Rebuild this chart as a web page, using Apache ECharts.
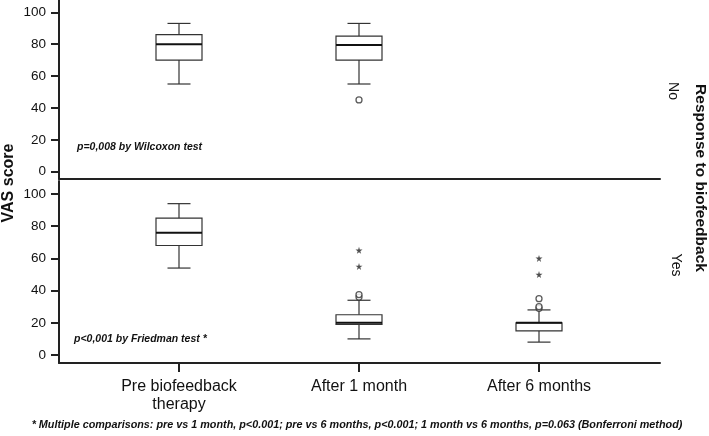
<!DOCTYPE html>
<html>
<head>
<meta charset="utf-8">
<script src="https://cdn.jsdelivr.net/npm/echarts@6/dist/echarts.min.js"></script>
<style>html,body{margin:0;padding:0;background:#fff}#c{width:709px;height:436px}</style>
</head>
<body>
<div id="c"></div>
<script>
// ---- data ----
const categories = ['Pre biofeedback\ntherapy', 'After 1 month', 'After 6 months'];
const categoryPos = [0, 1, 2];
const yTicks = [0, 20, 40, 60, 80, 100];
// [categoryIndex, lowWhisker, Q1, median, Q3, highWhisker]
const boxNo = [[0, 55, 70, 80, 86, 93], [1, 55, 70, 79.5, 85, 93]];
const boxYes = [[0, 54, 68, 76, 85, 94], [1, 10, 19, 20, 25, 34], [2, 8, 15, 20, 20, 28]];
const circlesNo = [[1, 45]];
const circlesYes = [[1, 36], [1, 37.5], [2, 29], [2, 30], [2, 35]];
const starsYes = [[1, 55], [1, 65], [2, 50], [2, 60]];

const FONT = '"Liberation Sans", Arial, Helvetica, sans-serif';
const LINE = '#333';
const BOX_HALF = 23, CAP_HALF = 11.5;

function renderBox(params, api) {
  const x = api.value(0);
  const c = v => api.coord([x, api.value(v)]);
  const lo = c(1), q1 = c(2), md = c(3), q3 = c(4), hi = c(5);
  const cx = lo[0];
  const st = { stroke: LINE, lineWidth: 1.2, fill: null };
  return {
    type: 'group',
    children: [
      { type: 'line', shape: { x1: cx, y1: lo[1], x2: cx, y2: q1[1] }, style: st },
      { type: 'line', shape: { x1: cx, y1: q3[1], x2: cx, y2: hi[1] }, style: st },
      { type: 'line', shape: { x1: cx - CAP_HALF, y1: lo[1], x2: cx + CAP_HALF, y2: lo[1] }, style: st },
      { type: 'line', shape: { x1: cx - CAP_HALF, y1: hi[1], x2: cx + CAP_HALF, y2: hi[1] }, style: st },
      { type: 'rect', shape: { x: cx - BOX_HALF, y: q3[1], width: BOX_HALF * 2, height: q1[1] - q3[1] }, style: { stroke: LINE, lineWidth: 1.2, fill: '#fff' } },
      { type: 'line', shape: { x1: cx - BOX_HALF, y1: md[1], x2: cx + BOX_HALF, y2: md[1] }, style: { stroke: '#111', lineWidth: 2 } }
    ]
  };
}

const STAR = 'path://M50,0 L61,35 L98,35 L68,57 L79,91 L50,70 L21,91 L32,57 L2,35 L39,35 Z';

function xAxis(gridIndex, showLabels) {
  return {
    type: 'value', gridIndex, min: -120 / 180, max: 481 / 180,
    splitLine: { show: false },
    axisLine: { show: true, onZero: false, lineStyle: { color: '#222', width: 2 } },
    axisTick: { show: showLabels, customValues: categoryPos, length: 9, lineStyle: { color: '#222', width: 2 } },
    axisLabel: {
      show: showLabels, customValues: categoryPos, margin: 15,
      fontSize: 16, lineHeight: 18, color: '#111', fontFamily: FONT,
      formatter: v => categories[Math.round(v)] || ''
    }
  };
}
function yAxis(gridIndex, min, max) {
  return {
    type: 'value', gridIndex, min, max,
    splitLine: { show: false },
    axisLine: { show: true, onZero: false, lineStyle: { color: '#222', width: 2 } },
    axisTick: { show: true, customValues: yTicks, length: 8, lineStyle: { color: '#222', width: 2 } },
    axisLabel: { customValues: yTicks, margin: 13, fontSize: 13.5, color: '#111', fontFamily: FONT }
  };
}

const chart = echarts.init(document.getElementById('c'), null, { renderer: 'canvas' });
chart.setOption({
  animation: false,
  backgroundColor: '#fff',
  textStyle: { fontFamily: FONT },
  grid: [
    { left: 59, right: 49, top: 0, height: 179 },
    { left: 59, right: 49, top: 181, height: 182 }
  ],
  xAxis: [xAxis(0, false), xAxis(1, true)],
  yAxis: [yAxis(0, -4.6, 107.7), yAxis(1, -4.97, 108.07)],
  series: [
    { type: 'custom', xAxisIndex: 0, yAxisIndex: 0, data: boxNo, renderItem: renderBox, encode: { x: 0, y: [1, 2, 3, 4, 5] }, silent: true },
    { type: 'custom', xAxisIndex: 1, yAxisIndex: 1, data: boxYes, renderItem: renderBox, encode: { x: 0, y: [1, 2, 3, 4, 5] }, silent: true },
    { type: 'scatter', xAxisIndex: 0, yAxisIndex: 0, data: circlesNo, symbol: 'circle', symbolSize: 6, itemStyle: { color: '#fff', borderColor: LINE, borderWidth: 1.3 }, silent: true },
    { type: 'scatter', xAxisIndex: 1, yAxisIndex: 1, data: circlesYes, symbol: 'circle', symbolSize: 6, itemStyle: { color: '#fff', borderColor: LINE, borderWidth: 1.3 }, silent: true },
    { type: 'scatter', xAxisIndex: 1, yAxisIndex: 1, data: starsYes, symbol: STAR, symbolSize: 7, itemStyle: { color: '#222' }, silent: true }
  ],
  graphic: [
    { type: 'text', x: 9, y: 183, rotation: Math.PI / 2, style: { text: 'VAS score', font: 'bold 16px ' + FONT, fill: '#111', align: 'center', verticalAlign: 'middle' } },
    { type: 'text', x: 700, y: 178, rotation: -Math.PI / 2, style: { text: 'Response to biofeedback', font: 'bold 15.5px ' + FONT, fill: '#111', align: 'center', verticalAlign: 'middle' } },
    { type: 'text', x: 673, y: 91, rotation: -Math.PI / 2, style: { text: 'No', font: '14px ' + FONT, fill: '#111', align: 'center', verticalAlign: 'middle' } },
    { type: 'text', x: 676, y: 265, rotation: -Math.PI / 2, style: { text: 'Yes', font: '14px ' + FONT, fill: '#111', align: 'center', verticalAlign: 'middle' } },
    { type: 'text', x: 77, y: 147, style: { text: 'p=0,008 by Wilcoxon test', font: 'italic bold 10.5px ' + FONT, fill: '#111', align: 'left', verticalAlign: 'middle' } },
    { type: 'text', x: 74, y: 339, style: { text: 'p<0,001 by Friedman test *', font: 'italic bold 10.5px ' + FONT, fill: '#111', align: 'left', verticalAlign: 'middle' } },
    { type: 'text', x: 357, y: 425, style: { text: '* Multiple comparisons: pre vs 1 month, p<0.001; pre vs 6 months, p<0.001; 1 month vs 6 months, p=0.063 (Bonferroni method)', font: 'italic bold 10.8px ' + FONT, fill: '#111', align: 'center', verticalAlign: 'middle' } }
  ]
});
</script>
</body>
</html>
